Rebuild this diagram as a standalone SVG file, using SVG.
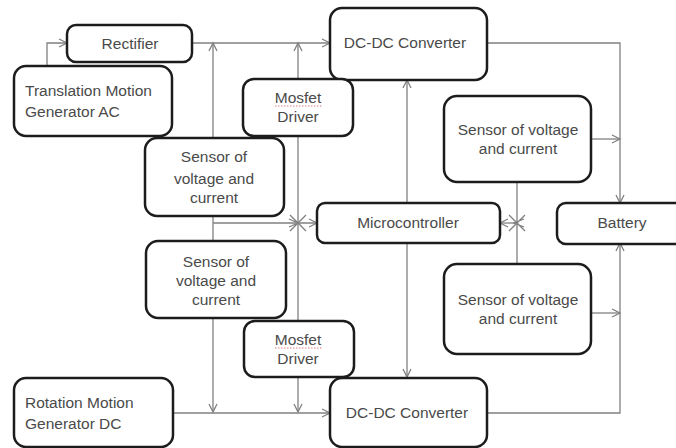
<svg xmlns="http://www.w3.org/2000/svg" width="676" height="448" viewBox="0 0 676 448">
<style>
.box{fill:#fff;stroke:#1c1c1c;stroke-width:2.5}
.t{font-family:"Liberation Sans",Arial,sans-serif;font-size:15.5px;fill:#4a4a4a}
.c{text-anchor:middle}
.ln{fill:none;stroke:#808080;stroke-width:1.3}
.ah{fill:none;stroke:#808080;stroke-width:1.3}
.sp{fill:none;stroke:#e08080;stroke-width:1;stroke-dasharray:1.5 1.5}
</style>
<rect width="676" height="448" fill="#fff"/>
<g id="connectors">
<path class="ln" d="M47,66 V43 H67"/>
<path class="ah" d="M59,39 L67,43 L59,47"/>
<path class="ln" d="M192,43 H330"/>
<path class="ah" d="M322,39 L330,43 L322,47"/>
<path class="ln" d="M213,43 V412"/>
<path class="ah" d="M209,51 L213,43 L217,51"/>
<path class="ah" d="M209,404 L213,412 L217,404"/>
<path class="ln" d="M298,43 V412"/>
<path class="ah" d="M294,51 L298,43 L302,51"/>
<path class="ah" d="M294,404 L298,412 L302,404"/>
<path class="ln" d="M213,223 H317"/>
<path class="ah" d="M309,219 L317,223 L309,227"/>
<path class="ah" d="M290,215 L298,223 L306,215 M290,231 L298,223 L306,231 M289,219 L298,223 L289,227"/>
<path class="ln" d="M407,203 V80"/>
<path class="ah" d="M403,88 L407,80 L411,88"/>
<path class="ln" d="M407,243 V377"/>
<path class="ah" d="M403,369 L407,377 L411,369"/>
<path class="ln" d="M517,182 V264"/>
<path class="ln" d="M500,223 H517"/>
<path class="ah" d="M508,219 L500,223 L508,227"/>
<path class="ah" d="M509,215 L517,223 L525,215 M509,231 L517,223 L525,231 M524,219 L514,223 L524,227"/>
<path class="ln" d="M487,43 H620 V203"/>
<path class="ah" d="M616,195 L620,203 L624,195"/>
<path class="ln" d="M487,413 H620 V243"/>
<path class="ah" d="M616,251 L620,243 L624,251"/>
<path class="ln" d="M591,139 H620"/>
<path class="ah" d="M612,135 L620,139 L612,143"/>
<path class="ln" d="M591,313 H620"/>
<path class="ah" d="M612,309 L620,313 L612,317"/>
<path class="ln" d="M173,413 H330"/>
<path class="ah" d="M322,409 L330,413 L322,417"/>
</g>
<g id="rectifier">
<rect class="box" x="67" y="25" width="125" height="37" rx="9"/>
<text class="t c" x="130" y="49">Rectifier</text>
</g>
<g id="translation-gen">
<rect class="box" x="14" y="66" width="158" height="70" rx="12"/>
<text class="t" x="25" y="96">Translation Motion</text>
<text class="t" x="25" y="117">Generator AC</text>
</g>
<g id="dcdc-top">
<rect class="box" x="330" y="8" width="157" height="72" rx="12"/>
<text class="t c" x="405" y="48">DC-DC Converter</text>
</g>
<g id="mosfet-top">
<rect class="box" x="243" y="79" width="110" height="57" rx="11"/>
<text class="t c" x="298" y="103">Mosfet</text>
<path class="sp" d="M275,106 H322"/>
<text class="t c" x="298" y="122">Driver</text>
</g>
<g id="sensor-tl">
<rect class="box" x="145" y="138" width="139" height="78" rx="12"/>
<text class="t c" x="214" y="162">Sensor of</text>
<text class="t c" x="214" y="184">voltage and</text>
<text class="t c" x="214" y="203">current</text>
</g>
<g id="sensor-tr">
<rect class="box" x="444" y="96" width="147" height="86" rx="13"/>
<text class="t c" x="518" y="135">Sensor of voltage</text>
<text class="t c" x="518" y="154">and current</text>
</g>
<g id="microcontroller">
<rect class="box" x="317" y="203" width="183" height="40" rx="8"/>
<text class="t c" x="408" y="228">Microcontroller</text>
</g>
<g id="battery">
<rect class="box" x="557" y="203" width="130" height="41" rx="9"/>
<text class="t c" x="622" y="228">Battery</text>
</g>
<g id="sensor-ml">
<rect class="box" x="146" y="241" width="140" height="77" rx="12"/>
<text class="t c" x="216" y="267">Sensor of</text>
<text class="t c" x="216" y="286">voltage and</text>
<text class="t c" x="216" y="305">current</text>
</g>
<g id="sensor-br">
<rect class="box" x="444" y="264" width="147" height="90" rx="13"/>
<text class="t c" x="518" y="305">Sensor of voltage</text>
<text class="t c" x="518" y="324">and current</text>
</g>
<g id="mosfet-bottom">
<rect class="box" x="244" y="321" width="110" height="56" rx="11"/>
<text class="t c" x="298" y="345">Mosfet</text>
<path class="sp" d="M275,348 H322"/>
<text class="t c" x="298" y="364">Driver</text>
</g>
<g id="rotation-gen">
<rect class="box" x="14" y="378" width="159" height="69" rx="12"/>
<text class="t" x="25" y="408">Rotation Motion</text>
<text class="t" x="25" y="429">Generator DC</text>
</g>
<g id="dcdc-bottom">
<rect class="box" x="330" y="378" width="157" height="69" rx="12"/>
<text class="t c" x="407" y="418">DC-DC Converter</text>
</g>
</svg>
